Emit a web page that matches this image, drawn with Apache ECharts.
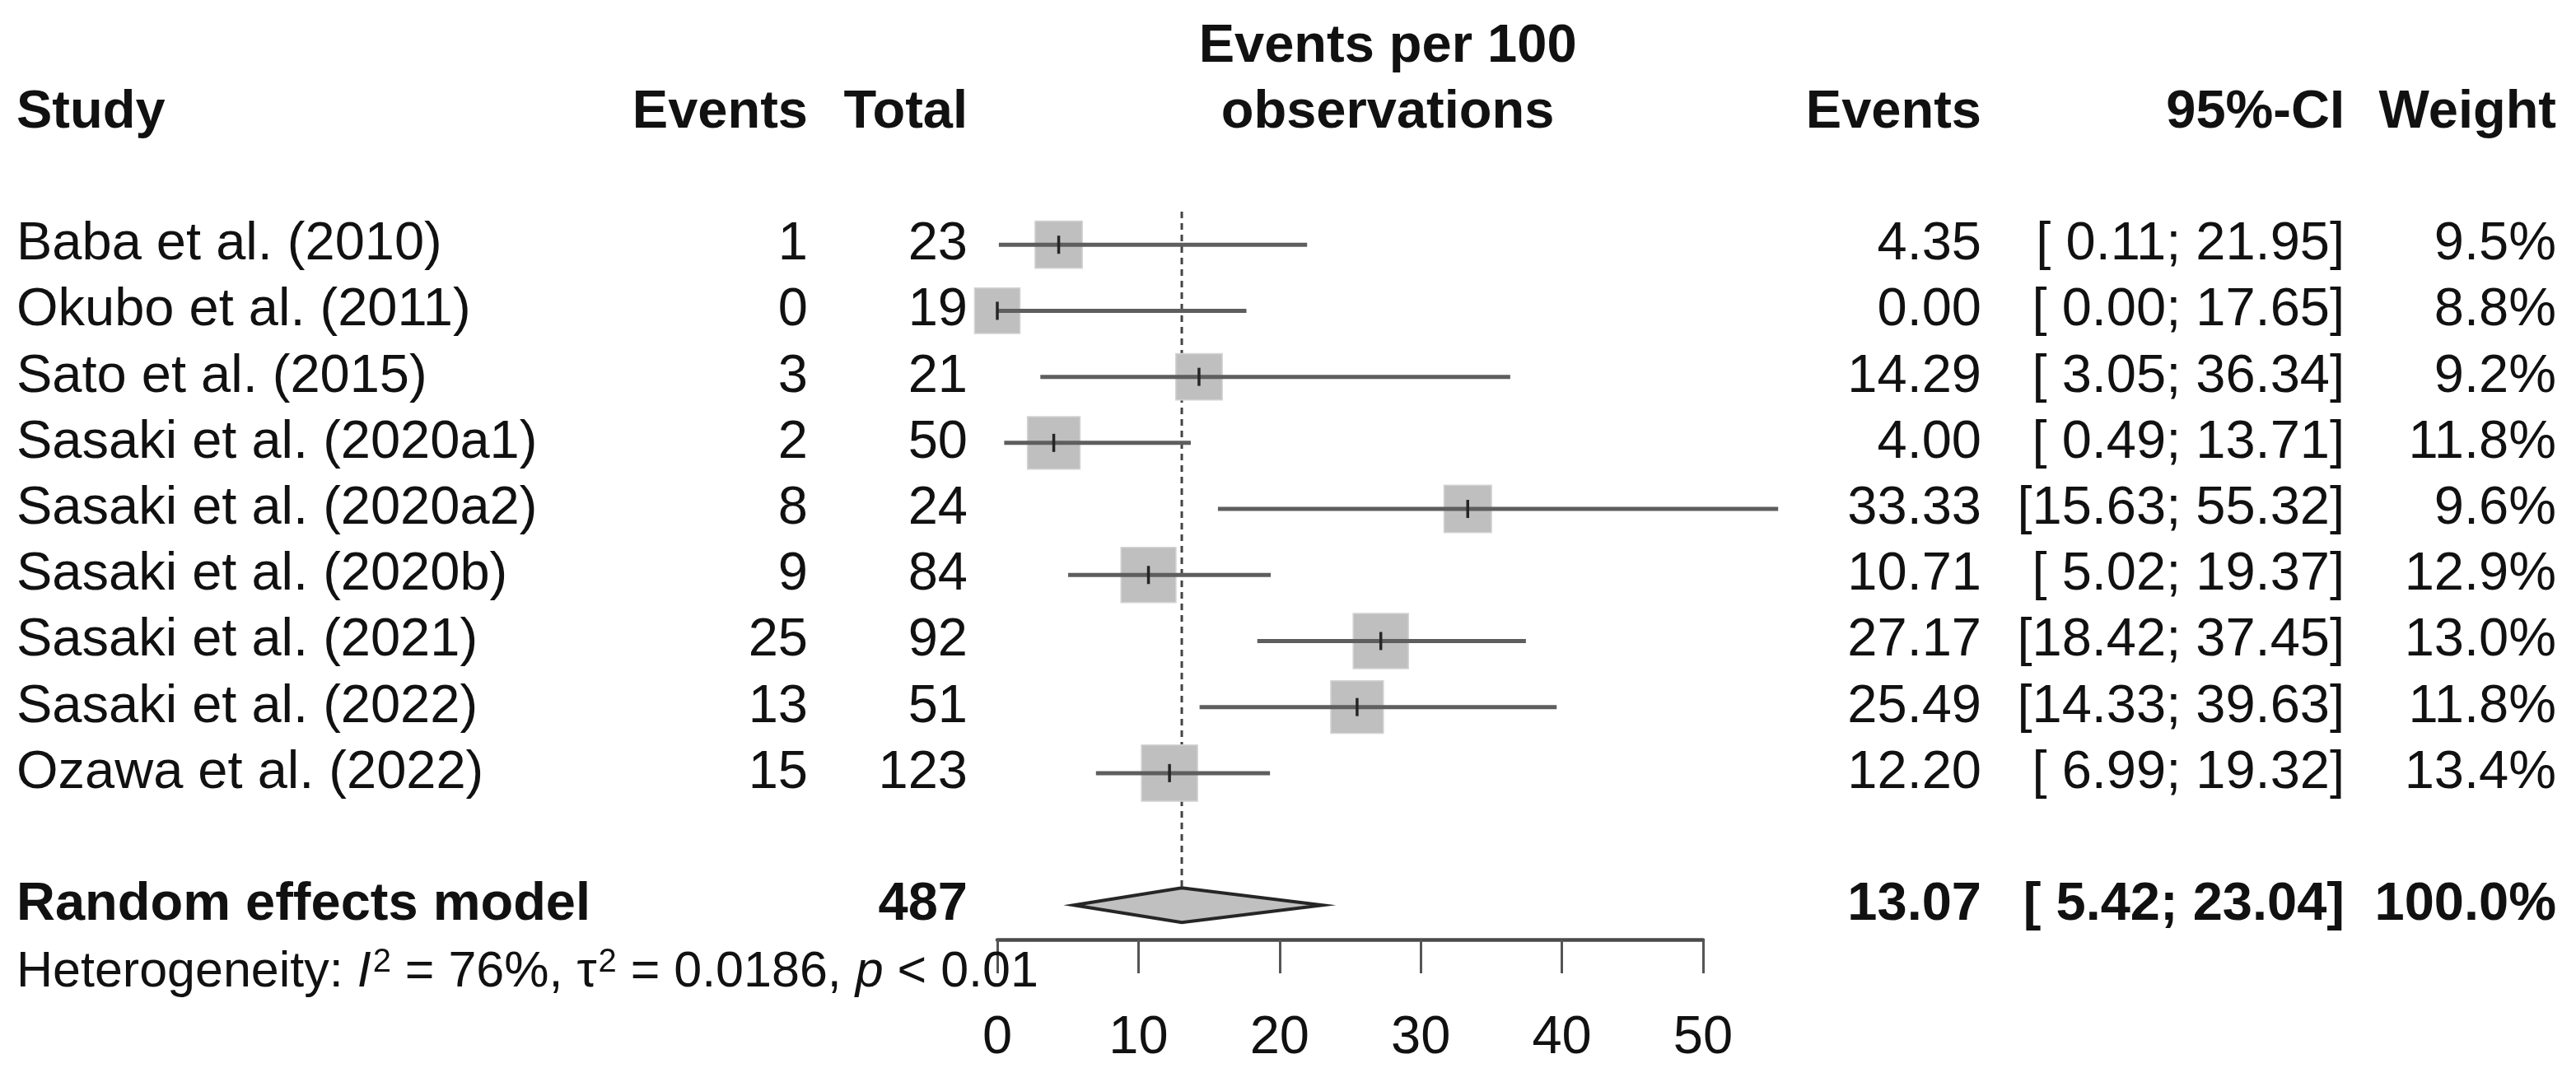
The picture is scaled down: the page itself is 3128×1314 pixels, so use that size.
<!DOCTYPE html>
<html>
<head>
<meta charset="utf-8">
<script src="https://cdn.jsdelivr.net/npm/echarts@6/dist/echarts.min.js"></script>
<style>
html, body { margin: 0; padding: 0; background: #ffffff; }
#chart { width: 3128px; height: 1314px; }
</style>
</head>
<body>
<div id="chart"></div>
<script>
// ---------------- data ----------------
const studies = [
  'Baba et al. (2010)', 'Okubo et al. (2011)', 'Sato et al. (2015)',
  'Sasaki et al. (2020a1)', 'Sasaki et al. (2020a2)', 'Sasaki et al. (2020b)',
  'Sasaki et al. (2021)', 'Sasaki et al. (2022)', 'Ozawa et al. (2022)'
];
const events    = [1, 0, 3, 2, 8, 9, 25, 13, 15];
const totals    = [23, 19, 21, 50, 24, 84, 92, 51, 123];
const estimates = [4.35, 0.00, 14.29, 4.00, 33.33, 10.71, 27.17, 25.49, 12.20];
const ciLower   = [0.11, 0.00, 3.05, 0.49, 15.63, 5.02, 18.42, 14.33, 6.99];
const ciUpper   = [21.95, 17.65, 36.34, 13.71, 55.32, 19.37, 37.45, 39.63, 19.32];
const weights   = [9.5, 8.8, 9.2, 11.8, 9.6, 12.9, 13.0, 11.8, 13.4];

const pooledLabel  = 'Random effects model';
const pooledTotal  = 487;
const pooledEst    = 13.07;
const pooledLower  = 5.42;
const pooledUpper  = 23.04;
const pooledWeight = 100.0;

const hetI2 = '76%';
const hetTau2 = '0.0186';
const hetP = '< 0.01';

const xTicks = [0, 10, 20, 30, 40, 50];

// ---------------- layout / style ----------------
const FONT = '"Liberation Sans", Arial, Helvetica, sans-serif';
const FS = 65;
const TXT = '#111111';
const COL = { study: 20, events: 981, total: 1175, est: 2406, ci: 2847, weight: 3104 };
const ROW_POOLED = studies.length + 1;
const ROW_HET = studies.length + 2;

function fmtNum(v) { return (v < 10 ? ' ' : '') + v.toFixed(2); }
function fmtCI(l, u) { return '[' + fmtNum(l) + '; ' + fmtNum(u) + ']'; }

function txt(text, x, y, align, bold, size) {
  return {
    type: 'text',
    style: {
      text: text, x: x, y: y,
      align: align, textAlign: align,
      verticalAlign: 'middle', textVerticalAlign: 'middle',
      font: (bold ? 'bold ' : '') + (size || FS) + 'px ' + FONT,
      fill: TXT
    }
  };
}

const chart = echarts.init(document.getElementById('chart'), null, { renderer: 'canvas' });

const option = {
  backgroundColor: '#ffffff',
  animation: false,
  grid: { left: 1211, right: 1060, top: 217, bottom: 173 },
  xAxis: {
    type: 'value', min: 0, max: 50, interval: 10, position: 'bottom',
    axisLine: { show: true, onZero: false, lineStyle: { color: '#4a4a4a', width: 4.5 } },
    axisTick: { show: true, length: 41, lineStyle: { color: '#555555', width: 3 } },
    axisLabel: {
      show: true, margin: 88, fontSize: FS, fontFamily: FONT, color: TXT,
      customValues: xTicks
    },
    splitLine: { show: false }
  },
  yAxis: {
    type: 'value', inverse: true, min: -1, max: 10.52, show: false,
    axisLine: { onZero: false },
    splitLine: { show: false }
  },
  series: [
    // dotted reference line at pooled estimate
    {
      type: 'custom', clip: false, z: 1,
      data: [[pooledEst, 0]],
      renderItem: function (params, api) {
        const top = api.coord([api.value(0), -0.5]);
        const bot = api.coord([api.value(0), ROW_POOLED - 0.28]);
        return {
          type: 'line',
          shape: { x1: top[0], y1: top[1], x2: bot[0], y2: bot[1] },
          style: { stroke: '#444444', lineWidth: 3, lineDash: [8, 6] }
        };
      }
    },
    // study boxes + confidence intervals
    {
      type: 'custom', clip: false, z: 2,
      data: studies.map(function (s, i) { return [estimates[i], i, ciLower[i], ciUpper[i], weights[i]]; }),
      renderItem: function (params, api) {
        const c = api.coord([api.value(0), api.value(1)]);
        const lo = api.coord([api.value(2), api.value(1)]);
        const hi = api.coord([api.value(3), api.value(1)]);
        const side = 18.6 * Math.sqrt(api.value(4));
        return {
          type: 'group',
          children: [
            { type: 'rect', shape: { x: c[0] - side / 2, y: c[1] - side / 2, width: side, height: side },
              style: { fill: '#bfbfbf', stroke: '#d4d4d4', lineWidth: 1.5 } },
            { type: 'line', shape: { x1: lo[0], y1: lo[1], x2: hi[0], y2: hi[1] },
              style: { stroke: '#5e5e5e', lineWidth: 5 } },
            { type: 'line', shape: { x1: c[0], y1: c[1] - 11, x2: c[0], y2: c[1] + 11 },
              style: { stroke: '#262626', lineWidth: 3.5 } }
          ]
        };
      }
    },
    // pooled diamond
    {
      type: 'custom', clip: false, z: 3,
      data: [[pooledEst, ROW_POOLED, pooledLower, pooledUpper]],
      renderItem: function (params, api) {
        const c = api.coord([api.value(0), api.value(1)]);
        const lo = api.coord([api.value(2), api.value(1)]);
        const hi = api.coord([api.value(3), api.value(1)]);
        const h = 21;
        return {
          type: 'polygon',
          shape: { points: [[lo[0], c[1]], [c[0], c[1] - h], [hi[0], c[1]], [c[0], c[1] + h]] },
          style: { fill: '#c0c0c0', stroke: '#262626', lineWidth: 4 }
        };
      }
    },
    // text table
    {
      type: 'custom', clip: false, z: 4,
      data: [[0, 0]],
      renderItem: function (params, api) {
        const y = function (r) { return api.coord([0, r])[1]; };
        const x0 = api.coord([0, 0])[0];
        const xMax = api.coord([Math.max.apply(null, ciUpper), 0])[0];
        const xMid = (x0 + xMax) / 2;
        const ch = [];
        // headers
        ch.push(txt('Events per 100', xMid, y(-3), 'center', true));
        ch.push(txt('observations', xMid, y(-2), 'center', true));
        ch.push(txt('Study', COL.study, y(-2), 'left', true));
        ch.push(txt('Events', COL.events, y(-2), 'right', true));
        ch.push(txt('Total', COL.total, y(-2), 'right', true));
        ch.push(txt('Events', COL.est, y(-2), 'right', true));
        ch.push(txt('95%-CI', COL.ci, y(-2), 'right', true));
        ch.push(txt('Weight', COL.weight, y(-2), 'right', true));
        // study rows
        studies.forEach(function (s, i) {
          const yy = y(i);
          ch.push(txt(s, COL.study, yy, 'left', false));
          ch.push(txt(String(events[i]), COL.events, yy, 'right', false));
          ch.push(txt(String(totals[i]), COL.total, yy, 'right', false));
          ch.push(txt(estimates[i].toFixed(2), COL.est, yy, 'right', false));
          ch.push(txt(fmtCI(ciLower[i], ciUpper[i]), COL.ci, yy, 'right', false));
          ch.push(txt(weights[i].toFixed(1) + '%', COL.weight, yy, 'right', false));
        });
        // pooled row
        const yp = y(ROW_POOLED);
        ch.push(txt(pooledLabel, COL.study, yp, 'left', true));
        ch.push(txt(String(pooledTotal), COL.total, yp, 'right', true));
        ch.push(txt(pooledEst.toFixed(2), COL.est, yp, 'right', true));
        ch.push(txt(fmtCI(pooledLower, pooledUpper), COL.ci, yp, 'right', true));
        ch.push(txt(pooledWeight.toFixed(1) + '%', COL.weight, yp, 'right', true));
        // heterogeneity
        const HF = 61;
        ch.push({
          type: 'text',
          style: {
            text: '{n|Heterogeneity: }{i|I}{s|2}{n| = ' + hetI2 + ', τ}{s|2}{n| = ' + hetTau2 + ', }{i|p}{n| ' + hetP + '}',
            x: COL.study, y: y(ROW_HET) + 2,
            align: 'left', textAlign: 'left',
            verticalAlign: 'middle', textVerticalAlign: 'middle',
            font: HF + 'px ' + FONT, fill: TXT,
            rich: {
              n: { fontSize: HF, fontFamily: FONT, fill: TXT, lineHeight: 66 },
              i: { fontSize: HF, fontFamily: FONT, fontStyle: 'italic', fill: TXT, lineHeight: 66 },
              s: { fontSize: 40, fontFamily: FONT, fill: TXT, lineHeight: 20, padding: [0, 0, 50, 2], verticalAlign: 'top' }
            }
          }
        });
        return { type: 'group', children: ch };
      }
    }
  ]
};

chart.setOption(option);
</script>
</body>
</html>
